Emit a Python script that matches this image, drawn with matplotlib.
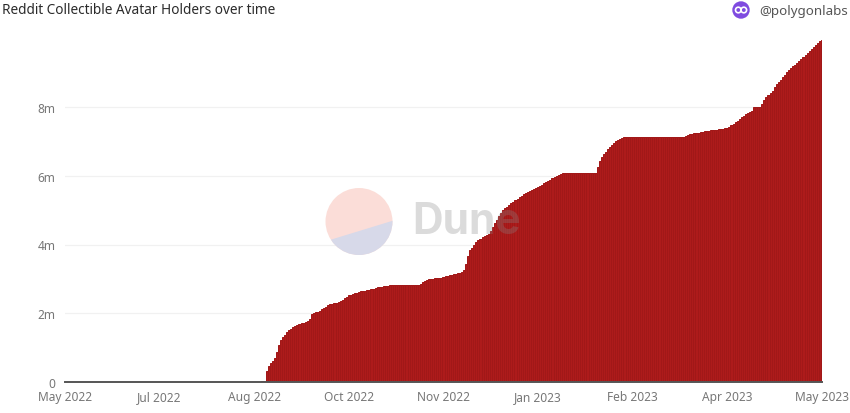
import numpy as np
import matplotlib
matplotlib.use("Agg")
import matplotlib.pyplot as plt
from matplotlib.patches import Circle, Polygon

tick_labels = ["May 2022", "Jul 2022", "Aug 2022", "Oct 2022", "Nov 2022",
               "Jan 2023", "Feb 2023", "Apr 2023", "May 2023"]
y_ticks = [0, 2, 4, 6, 8]
y_labels = ["0", "2m", "4m", "6m", "8m"]

# daily holders in millions, one list per x tick span (46 days)
may_jul = [0.0] * 46
jul_aug = [0.0] * 46
aug_oct = [0.0, 0.0, 0.01, 0.01, 0.02, 0.04, 0.32, 0.46, 0.54, 0.62, 0.70, 0.86,
           1.08, 1.22, 1.31, 1.38, 1.45, 1.50, 1.54, 1.59, 1.64, 1.67, 1.69, 1.71,
           1.73, 1.75, 1.78, 1.84, 1.98, 2.01, 2.03, 2.05, 2.07, 2.11, 2.15, 2.19,
           2.23, 2.27, 2.28, 2.30, 2.31, 2.33, 2.36, 2.40, 2.44, 2.48]
oct_nov = [2.52, 2.54, 2.56, 2.58, 2.60, 2.62, 2.64, 2.65, 2.66, 2.68, 2.69, 2.70,
           2.72, 2.73, 2.75, 2.76, 2.77, 2.78, 2.79, 2.80, 2.81, 2.82, 2.82, 2.82,
           2.82, 2.82, 2.82, 2.82, 2.82, 2.82, 2.82, 2.82, 2.82, 2.82, 2.82, 2.84,
           2.91, 2.93, 2.96, 3.00, 3.01, 3.01, 3.02, 3.02, 3.03, 3.03]
nov_jan = [3.05, 3.07, 3.09, 3.10, 3.12, 3.13, 3.15, 3.17, 3.18, 3.20, 3.27, 3.42,
           3.68, 3.83, 3.91, 3.99, 4.07, 4.12, 4.17, 4.22, 4.25, 4.28, 4.31, 4.40,
           4.52, 4.62, 4.72, 4.84, 4.93, 4.99, 5.05, 5.10, 5.15, 5.20, 5.25, 5.29,
           5.33, 5.38, 5.42, 5.47, 5.51, 5.54, 5.57, 5.60, 5.62, 5.65]
jan_feb = [5.68, 5.71, 5.74, 5.78, 5.81, 5.85, 5.89, 5.93, 5.96, 5.99, 6.03, 6.06,
           6.08, 6.08, 6.08, 6.08, 6.08, 6.08, 6.08, 6.08, 6.08, 6.08, 6.08, 6.08,
           6.08, 6.08, 6.08, 6.08, 6.08, 6.25, 6.44, 6.55, 6.63, 6.70, 6.78, 6.84,
           6.89, 6.94, 7.00, 7.03, 7.07, 7.10, 7.13, 7.13, 7.13, 7.13]
feb_apr = [7.13, 7.13, 7.13, 7.13, 7.13, 7.13, 7.13, 7.13, 7.13, 7.13, 7.13, 7.13,
           7.13, 7.13, 7.13, 7.13, 7.13, 7.13, 7.13, 7.13, 7.13, 7.13, 7.13, 7.13,
           7.13, 7.13, 7.16, 7.19, 7.21, 7.22, 7.23, 7.24, 7.25, 7.26, 7.27, 7.29,
           7.30, 7.31, 7.32, 7.33, 7.34, 7.34, 7.35, 7.36, 7.37, 7.38]
apr_may = [7.39, 7.43, 7.47, 7.52, 7.56, 7.60, 7.65, 7.70, 7.75, 7.81, 7.84, 7.86,
           7.89, 8.00, 8.00, 8.00, 8.00, 8.08, 8.21, 8.28, 8.34, 8.42, 8.48, 8.57,
           8.66, 8.73, 8.80, 8.87, 8.94, 9.01, 9.09, 9.14, 9.18, 9.23, 9.28, 9.33,
           9.39, 9.45, 9.51, 9.57, 9.63, 9.69, 9.75, 9.81, 9.87, 9.92, 9.95]

holders = may_jul + jul_aug + aug_oct + oct_nov + nov_jan + jan_feb + feb_apr + apr_may
days = np.arange(len(holders))

W, H = 850, 414
fig = plt.figure(figsize=(W / 100, H / 100), dpi=100)
plt.rcParams["font.family"] = ["Noto Sans", "DejaVu Sans"]

ax = fig.add_axes([65 / W, 1 - 383 / H, (822 - 65) / W, (383 - 39.25) / H])
# 1px edges snapped to the pixel grid, low contrast so moire stays faint
ax.bar(days, holders, width=1.0, color="#ad1b1b", edgecolor="#a11818", linewidth=0.72, snap=True, zorder=3)
ax.axhline(0, color="#555555", lw=1.4, zorder=4, clip_on=False)
ax.set_xlim(0, 368)
ax.set_ylim(0, 10)
ax.set_yticks(y_ticks)
ax.set_yticklabels(y_labels)
ax.set_xticks(np.arange(0, 369, 46))
ax.set_xticklabels(tick_labels)
ax.tick_params(length=0, labelsize=8.6, labelcolor="#777777")
ax.tick_params(axis="x", pad=6)
ax.tick_params(axis="y", pad=7)
ax.grid(axis="y", color="#f1f1f1", lw=0.9, zorder=0)
ax.set_axisbelow(True)
for s in ax.spines.values():
    s.set_visible(False)

# overlay in pixel coords for the logos
over = fig.add_axes([0, 0, 1, 1], zorder=5)
over.set_xlim(0, W)
over.set_ylim(H, 0)
over.axis("off")

# dune watermark
circle = Circle((359, 222.5), 33.5, fc="#fbdcd6", ec="none", alpha=0.95)
over.add_patch(circle)
lower = Polygon([(320, 244), (400, 219.5), (400, 265), (320, 265)], fc="#d7d9e9", ec="none")
over.add_patch(lower)
lower.set_clip_path(circle)
over.text(412, 223, "Dune", fontsize=30.5, fontweight="bold", color="#888888", alpha=0.3,
          va="center", ha="left", family=["Inter", "DejaVu Sans"])

# polygon avatar
over.add_patch(Circle((741, 11), 8.7, fc="#7f4be0", ec="none"))
over.add_patch(Circle((738.3, 11), 2.8, fc="none", ec="white", lw=1.2))
over.add_patch(Circle((743.8, 11), 2.8, fc="none", ec="white", lw=1.2))

over.text(2, 10.5, "Reddit Collectible Avatar Holders over time", fontsize=9.8, fontweight="semibold",
          color="#2b2b2b", va="center", ha="left", family=["Noto Sans", "DejaVu Sans"])
over.text(759, 11, "@polygonlabs", fontsize=9.6, color="#555555", va="center", ha="left",
          family=["Noto Sans", "DejaVu Sans"])

plt.savefig("out.png", dpi=100)
plt.close()
